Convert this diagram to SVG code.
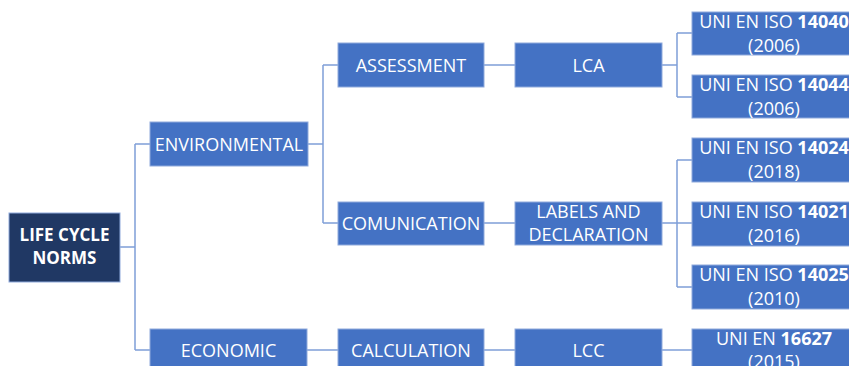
<svg xmlns="http://www.w3.org/2000/svg" width="849" height="366" viewBox="0 0 849 366">
<style>
.b{fill:#4472C4;stroke:#8FAADC;stroke-width:1}
.r{fill:#203864;stroke:#8FAADC;stroke-width:1}
.t{font-family:"Open Sans","Liberation Sans",sans-serif;font-size:18px;fill:#fff;text-anchor:middle}
.tr{font-family:"Open Sans","Liberation Sans",sans-serif;font-size:17px;font-weight:bold;fill:#fff;text-anchor:middle}
.c{fill:none;stroke:#7F9FD8;stroke-width:1.5}
b,.bd{font-weight:bold}
</style>
<rect width="849" height="366" fill="#fff"/>
<g id="connectors">
<path class="c" d="M120,247 H135 M135,144 V350 M135,144 H150 M135,350 H150"/>
<path class="c" d="M308,144 H323 M323,65 V223 M323,65 H338 M323,223 H338"/>
<path class="c" d="M484,65 H515 M484,223 H515 M307,350 H338 M484,350 H515"/>
<path class="c" d="M662,65 H677 M677,33 V97 M677,33 H692 M677,97 H692"/>
<path class="c" d="M662,223 H692 M677,160 V287 M677,160 H692 M677,287 H692"/>
<path class="c" d="M662,350 H692"/>
</g>
<g id="root"><rect class="r" x="9" y="213" width="111" height="69"/><text class="tr" x="64.5" y="241">LIFE CYCLE</text><text class="tr" x="64.5" y="264">NORMS</text></g>
<g id="environmental"><rect class="b" x="150" y="122" width="158" height="44"/><text class="t" x="229" y="150.5">ENVIRONMENTAL</text></g>
<g id="economic"><rect class="b" x="150" y="329" width="157" height="44"/><text class="t" x="228.5" y="356.5">ECONOMIC</text></g>
<g id="assessment"><rect class="b" x="338" y="43" width="146" height="44"/><text class="t" x="411" y="71.5">ASSESSMENT</text></g>
<g id="comunication"><rect class="b" x="338" y="202" width="146" height="43"/><text class="t" x="411" y="229.5">COMUNICATION</text></g>
<g id="calculation"><rect class="b" x="338" y="329" width="146" height="44"/><text class="t" x="411" y="356.5">CALCULATION</text></g>
<g id="lca"><rect class="b" x="515" y="43" width="147" height="44"/><text class="t" x="588.5" y="71.5">LCA</text></g>
<g id="labels"><rect class="b" x="515" y="202" width="147" height="43"/><text class="t" x="588.5" y="218">LABELS AND</text><text class="t" x="588.5" y="241">DECLARATION</text></g>
<g id="lcc"><rect class="b" x="515" y="329" width="147" height="44"/><text class="t" x="588.5" y="356.5">LCC</text></g>
<g id="iso14040"><rect class="b" x="692" y="12" width="164" height="43"/><text class="t" x="774" y="27.5">UNI EN ISO <tspan class="bd">14040</tspan></text><text class="t" x="774" y="52">(2006)</text></g>
<g id="iso14044"><rect class="b" x="692" y="75" width="164" height="43"/><text class="t" x="774" y="90.5">UNI EN ISO <tspan class="bd">14044</tspan></text><text class="t" x="774" y="115">(2006)</text></g>
<g id="iso14024"><rect class="b" x="692" y="138" width="164" height="44"/><text class="t" x="774" y="153.5">UNI EN ISO <tspan class="bd">14024</tspan></text><text class="t" x="774" y="178">(2018)</text></g>
<g id="iso14021"><rect class="b" x="692" y="202" width="164" height="44"/><text class="t" x="774" y="217.5">UNI EN ISO <tspan class="bd">14021</tspan></text><text class="t" x="774" y="242">(2016)</text></g>
<g id="iso14025"><rect class="b" x="692" y="265" width="164" height="44"/><text class="t" x="774" y="280.5">UNI EN ISO <tspan class="bd">14025</tspan></text><text class="t" x="774" y="305">(2010)</text></g>
<g id="en16627"><rect class="b" x="692" y="329" width="164" height="44"/><text class="t" x="774" y="345">UNI EN <tspan class="bd">16627</tspan></text><text class="t" x="774" y="368">(2015)</text></g>
</svg>
